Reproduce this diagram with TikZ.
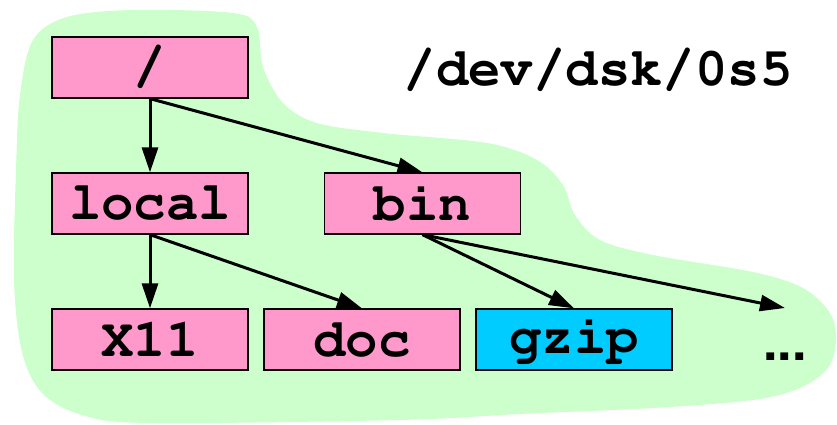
\documentclass[tikz,border=0pt]{standalone}
\usepackage[T1]{fontenc}
\usepackage{courier}
\usepackage{helvet}
\usetikzlibrary{arrows.meta}
\definecolor{blobgreen}{HTML}{CCFFCC}
\definecolor{dirpink}{HTML}{FF99CC}
\definecolor{filecyan}{HTML}{00CCFF}
\begin{document}
\begin{tikzpicture}[x=1pt,y=-1pt,
  dirbox/.style={draw=black,line width=1.3pt,fill=dirpink,minimum width=196pt,minimum height=61pt,
    inner sep=0pt,font=\fontsize{54}{60}\selectfont\ttfamily\bfseries},
  filebox/.style={dirbox,fill=filecyan},
  link/.style={line width=3pt,-{Triangle[length=25pt,width=16pt]},shorten >=0pt}]
\useasboundingbox (0,0) rectangle (837,425);
% file system region
\fill[blobgreen] plot[smooth cycle,tension=0.55] coordinates {
  (33,40) (67,17) (133,10) (233,13) (257,27) (263,67) (283,103) (317,123)
  (383,133) (487,143) (537,160) (563,185) (575,215) (600,240) (653,255)
  (753,272) (803,288) (830,313) (836,340) (828,368) (800,388) (753,400)
  (653,408) (520,414) (400,420) (150,423) (82,415) (42,393) (22,352) (14,280) (16,170) (20,95)};
% directory tree
\node[dirbox] (root) at (150,67.5) {/};
\node[dirbox] (local) at (150,203.5) {local};
\node[dirbox] (bin) at (422.5,203.5) {bin};
\node[dirbox] (x11) at (150,339.5) {X11};
\node[dirbox] (doc) at (362,339.5) {doc};
\node[filebox] (gzip) at (574,339.5) {gzip};
\node[font=\fontsize{52}{60}\selectfont\sffamily\bfseries,inner sep=0pt,anchor=base] (more) at (785,360) {...};
\coordinate (moretop) at (785,308);
\node[font=\fontsize{54}{60}\selectfont\ttfamily\bfseries,inner sep=0pt] (dev) at (598,70) {/dev/dsk/0s5};
% links
\draw[link] (root.south) -- (local.north);
\draw[link] (root.south) -- (bin.north);
\draw[link] (local.south) -- (x11.north);
\draw[link] (local.south) -- (doc.north);
\draw[link] (bin.south) -- (gzip.north);
\draw[link] (bin.south) -- (moretop);
\end{tikzpicture}
\end{document}
